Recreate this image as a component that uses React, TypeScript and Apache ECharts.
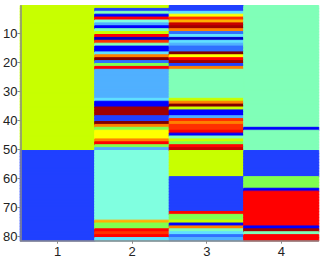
import React, { useEffect, useRef } from "react";
import * as echarts from "echarts";

const palette = [
  "#0000c8", "#0000ff", "#2040ff", "#3070ff", "#50b0ff", "#60e0ff",
  "#80ffe0", "#80ffb8", "#80ff50", "#c8ff00", "#ffff00", "#ffb000",
  "#ff8000", "#ff3000", "#ff0000", "#c80000", "#a00000", "#800000",
];

const columns = ["1", "2", "3", "4"];
const rows = Array.from({ length: 81 }, (_, i) => String(i + 1));

const col1 = [
  9,9,9,9,9,9,9,9,9,9, 9,9,9,9,9,9,9,9,9,9, 9,9,9,9,9,9,9,9,9,9,
  9,9,9,9,9,9,9,9,9,9, 9,9,9,9,9,9,9,9,9,9,
  2,2,2,2,2,2,2,2,2,2, 2,2,2,2,2,2,2,2,2,2, 2,2,2,2,2,2,2,2,2,2, 2,
];
const col2 = [
  9,2,7,1,14,6,4,1,7,9, 14,0,13,7,1,1,5,12,17,3, 8,14,
  4,4,4,4,4,4,4,4,4,4, 5,1,1,16,16,16,2,2,17,12,
  8,10,10,10,12,14,8,4,
  6,6,6,6,6,6,6,6,6,6, 6,6,6,6,6,6,6,6,6,6, 6,6,6,6,
  11,8,8,14,13,14,5,
];
const col3 = [
  2,2,5,10,13,11,15,16,12,3, 5,0,5,4,3,3,17,10,14,16, 2,12,
  7,7,7,7,7,7,7,7,7,7, 9,12,17,9,1,1,4,13,12,13,
  13,14,1,7,9,8,14,15,
  9,9,9,9,9,9,9,9,9,
  2,2,2,2,2,2,2,2,2,2,2,2,
  14,8,8,9,1,12,7,5,3,4,
];
const col4 = [
  7,7,7,7,7,7,7,7,7,7, 7,7,7,7,7,7,7,7,7,7, 7,7,7,7,7,7,7,7,7,7,
  7,7,7,7,7,7,7,7,7,7, 7,7,1,7,7,7,7,7,7,7,
  2,2,2,2,2,2,2,2,2,
  8,8,8,8,1,
  14,14,14,14,14,14,14,14,14,14,14,14,
  1,16,7,14,14,
];
const columnValues = [col1, col2, col3, col4];

export default function App() {
  const ref = useRef<HTMLDivElement>(null);
  useEffect(() => {
    const chart = echarts.init(ref.current!, undefined, { renderer: "svg" });
    const data: any[] = [];
    columnValues.forEach((col, x) =>
      col.forEach((v, y) =>
        data.push({
          value: [x, y, v],
          itemStyle: { borderColor: palette[v], borderWidth: 1 },
        })
      )
    );
    const axisStyle = { lineStyle: { color: "#8a8a8a", width: 1.5 } };
    const every10 = (i: number) => (i + 1) % 10 === 0;
    chart.setOption({
      animation: false,
      backgroundColor: "#ffffff",
      grid: { left: 20, right: 5.5, top: 5.75, bottom: 18.3 },
      xAxis: {
        type: "category",
        data: columns,
        z: 5,
        axisLine: axisStyle,
        axisTick: { show: true, alignWithLabel: true, length: 3, lineStyle: { color: "#8a8a8a" } },
        axisLabel: { color: "#222", fontSize: 13, fontFamily: "Liberation Sans", margin: 4 },
        splitLine: { show: false },
        splitArea: { show: false },
      },
      yAxis: {
        type: "category",
        inverse: true,
        data: rows,
        z: 5,
        axisLine: axisStyle,
        axisTick: { show: true, alignWithLabel: true, length: 3, interval: every10, lineStyle: { color: "#8a8a8a" } },
        axisLabel: { color: "#222", fontSize: 13, fontFamily: "Liberation Sans", margin: 3, interval: every10 },
        splitLine: { show: false },
        splitArea: { show: false },
      },
      visualMap: {
        type: "piecewise",
        show: false,
        dimension: 2,
        pieces: palette.map((color, value) => ({ value, color })),
      },
      series: [
        {
          type: "heatmap",
          data,
          progressive: 0,
          emphasis: { disabled: true },
        },
      ],
    });
    return () => chart.dispose();
  }, []);
  return <div ref={ref} style={{ position: "fixed", left: 0, top: 0, width: 324, height: 259 }} />;
}
